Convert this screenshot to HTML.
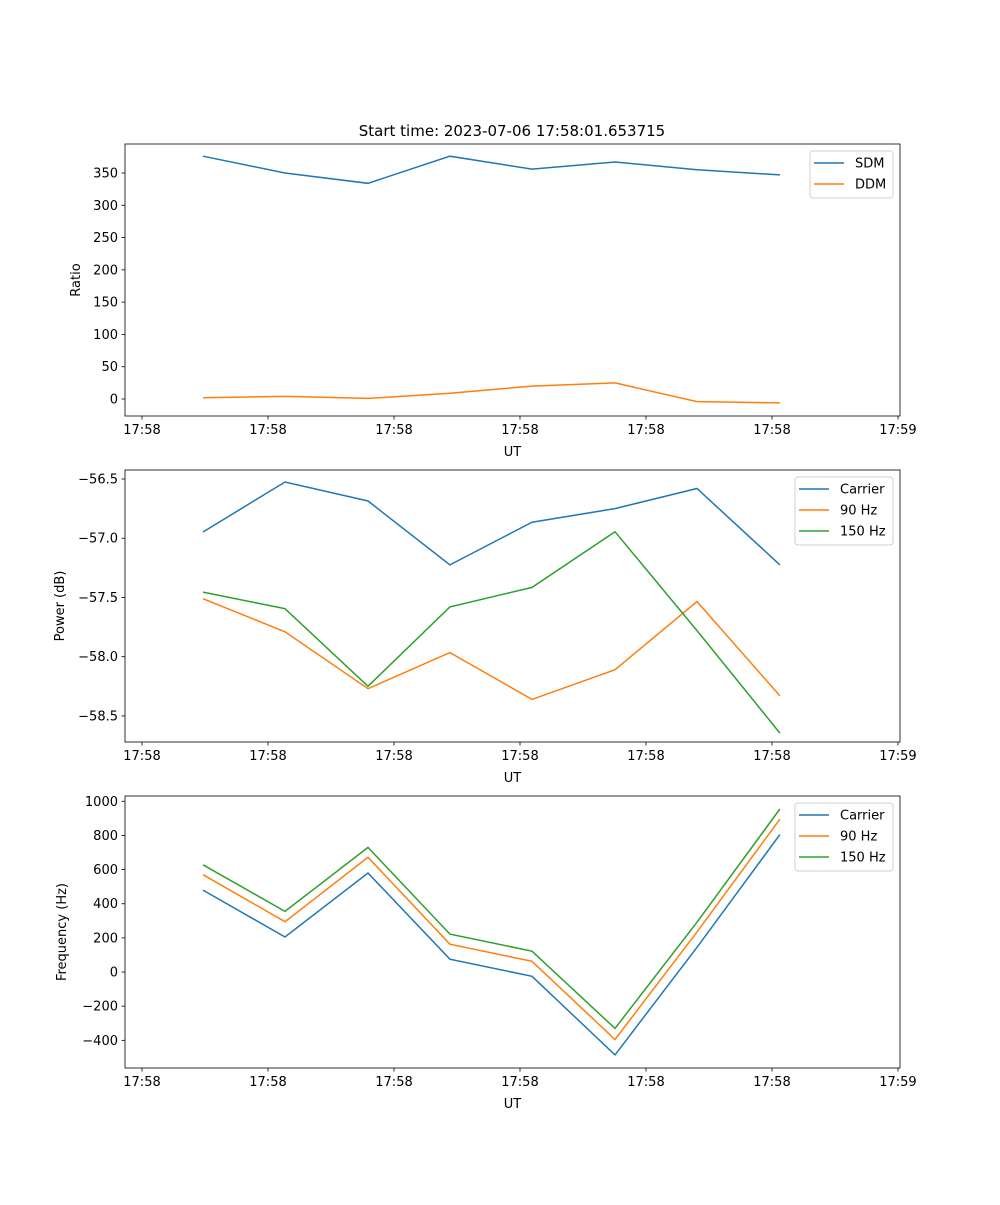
<!DOCTYPE html>
<html><head><meta charset="utf-8"><style>
body{margin:0;background:#fff}
svg{font-family:"DejaVu Sans","Liberation Sans",sans-serif;font-size:13px}
</style></head><body>
<svg id="fig" width="1000" height="1200" viewBox="0 0 1000 1200">
<rect width="1000" height="1200" fill="#fff"/>
<text x="512" y="136" text-anchor="middle" font-size="15">Start time: 2023-07-06 17:58:01.653715</text>
</svg>
<script>
const times=[4.84,11.35,17.94,24.44,30.95,37.54,44.05,50.63];
const xTickVals=[0,10,20,30,40,50,60];
const xTickLabels=["17:58","17:58","17:58","17:58","17:58","17:58","17:59"];
const sdm=[376,350,334,376,356,367,355,347];
const ddm=[2,4,1,9,20,25,-4,-6];
const pwrCarrier=[-56.947,-56.525,-56.686,-57.225,-56.865,-56.75,-56.58,-57.225];
const pwr90=[-57.51,-57.79,-58.27,-57.965,-58.36,-58.11,-57.535,-58.33];
const pwr150=[-57.455,-57.595,-58.25,-57.58,-57.415,-56.945,-57.78,-58.645];
const frqCarrier=[480,205,580,75,-25,-485,145,805];
const frq90=[570,295,672,163,63,-395,235,895];
const frq150=[628,355,730,222,122,-330,292,955];
const y1Ticks=[0,50,100,150,200,250,300,350];
const y1Labels=["0","50","100","150","200","250","300","350"];
const y2Ticks=[-58.5,-58.0,-57.5,-57.0,-56.5];
const y2Labels=["\u221258.5","\u221258.0","\u221257.5","\u221257.0","\u221256.5"];
const y3Ticks=[-400,-200,0,200,400,600,800,1000];
const y3Labels=["\u2212400","\u2212200","0","200","400","600","800","1000"];

const NS="http://www.w3.org/2000/svg";
const svg=document.getElementById('fig');
const L=125,R=900,xmin=-1.35,xmax=60.16;
function sx(t){return L+(t-xmin)/(xmax-xmin)*(R-L);}
function mk(tag,attrs,parent){const e=document.createElementNS(NS,tag);for(const k in attrs)e.setAttribute(k,attrs[k]);(parent||svg).appendChild(e);return e;}
const C=['#1f77b4','#ff7f0e','#2ca02c'];
function panel(name,top,bot,ymin,ymax,yt,yl,ylabel,series,names,legend){
  const g=mk('g',{});
  
  
  const sy=v=>bot-(v-ymin)/(ymax-ymin)*(bot-top);
  series.forEach((s,i)=>{
    const p=mk('polyline',{points:s.map((v,j)=>sx(times[j]).toFixed(1)+','+sy(v).toFixed(1)).join(' '),fill:'none',stroke:C[i],'stroke-width':1.5},g);
    
    
  });
  const fr=mk('rect',{x:L,y:top,width:R-L,height:bot-top,fill:'none',stroke:'#000','stroke-width':0.8},g);
  
  
  xTickVals.forEach((t,i)=>{const x=sx(t);
    mk('line',{x1:x,x2:x,y1:bot,y2:bot+3.5,stroke:'#000','stroke-width':0.8},g);
    const tx=mk('text',{x:x,y:bot+18,'text-anchor':'middle'},g);tx.textContent=xTickLabels[i];
    
    });
  yt.forEach((v,i)=>{const y=sy(v);
    mk('line',{x1:L-3.5,x2:L,y1:y,y2:y,stroke:'#000','stroke-width':0.8},g);
    const tx=mk('text',{x:L-7,y:y+4.5,'text-anchor':'end'},g);tx.textContent=yl[i];
    
    });
  const xl=mk('text',{x:(L+R)/2,y:bot+40,'text-anchor':'middle'},g);xl.textContent='UT';
  
  
  const yx=legend.yx, ym=(top+bot)/2;
  const ylt=mk('text',{x:yx,y:ym,'text-anchor':'middle',transform:'rotate(-90 '+yx+' '+ym+')'},g);ylt.textContent=ylabel;
  
  
  const lg=mk('g',{},g);
  
  
  mk('rect',{x:legend.x,y:top+7,width:893-legend.x,height:names.length*21+5,rx:3,fill:'#fff',stroke:'#ccc','stroke-width':1,opacity:0.9},lg);
  names.forEach((n,i)=>{const y=top+19+i*21;
    mk('line',{x1:legend.x+4,x2:legend.x+34,y1:y,y2:y,stroke:C[i],'stroke-width':1.5},lg);
    const t=mk('text',{x:legend.x+45,y:y+4.5},lg);t.textContent=n;
    
    });
}
panel('ratio',144,416,-26.3,394.9,y1Ticks,y1Labels,'Ratio',[sdm,ddm],['SDM','DDM'],{x:810,yx:80});
panel('power',470,742,-58.72,-56.424,y2Ticks,y2Labels,'Power (dB)',[pwrCarrier,pwr90,pwr150],['Carrier','90 Hz','150 Hz'],{x:795,yx:64});
panel('frequency',796,1068,-562,1031,y3Ticks,y3Labels,'Frequency (Hz)',[frqCarrier,frq90,frq150],['Carrier','90 Hz','150 Hz'],{x:795,yx:66});
</script>
</body></html>
